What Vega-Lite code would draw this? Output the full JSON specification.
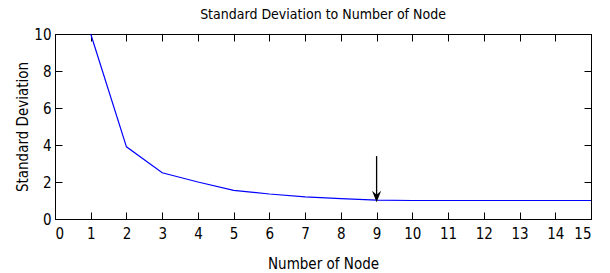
{
  "$schema": "https://vega.github.io/schema/vega-lite/v6.json",
  "width": 536,
  "height": 185,
  "autosize": "none",
  "padding": {"left": 55, "top": 34, "right": 19, "bottom": 54},
  "background": "white",
  "config": {
    "font": "DejaVu Sans Condensed, Liberation Sans, sans-serif",
    "view": {"stroke": "black", "strokeWidth": 1},
    "axis": {"grid": false, "domainColor": "black", "tickColor": "black", "labelColor": "black", "titleColor": "black", "labelFont": "DejaVu Sans Condensed, Liberation Sans, sans-serif", "titleFont": "DejaVu Sans Condensed, Liberation Sans, sans-serif", "labelFontSize": 15, "titleFontSize": 15, "titleFontWeight": "normal", "tickSize": -7}
  },
  "title": {"text": "Standard Deviation to Number of Node", "font": "DejaVu Sans Condensed, Liberation Sans, sans-serif", "fontSize": 14, "fontWeight": "normal", "color": "black", "offset": 5},
  "datasets": {
    "series": [
      {"node": 1, "sd": 10},
      {"node": 2, "sd": 3.9},
      {"node": 3, "sd": 2.5},
      {"node": 4, "sd": 2.0},
      {"node": 5, "sd": 1.55},
      {"node": 6, "sd": 1.35},
      {"node": 7, "sd": 1.2},
      {"node": 8, "sd": 1.1},
      {"node": 9, "sd": 1.02},
      {"node": 10, "sd": 1.0},
      {"node": 11, "sd": 1.0},
      {"node": 12, "sd": 1.0},
      {"node": 13, "sd": 1.0},
      {"node": 14, "sd": 1.0},
      {"node": 15, "sd": 1.0}
    ],
    "arrow": [{"node": 9, "top": 3.4, "bottom": 1.3, "tip": 1.22}]
  },
  "resolve": {"axis": {"x": "independent", "y": "independent"}},
  "layer": [
    {
      "data": {"name": "series"},
      "mark": {"type": "line", "color": "#0000ff", "strokeWidth": 1.2},
      "encoding": {
        "x": {"field": "node", "type": "quantitative", "scale": {"domain": [0, 15], "nice": false}, "axis": {"values": [0,1,2,3,4,5,6,7,8,9,10,11,12,13,14,15], "title": "Number of Node", "labelPadding": 14, "titlePadding": 15}},
        "y": {"field": "sd", "type": "quantitative", "scale": {"domain": [0, 10], "nice": false}, "axis": {"values": [0,2,4,6,8,10], "title": "Standard Deviation", "labelPadding": 11, "titlePadding": 3}}
      }
    },
    {
      "data": {"name": "arrow"},
      "mark": {"type": "rule", "color": "black", "strokeWidth": 1.3},
      "encoding": {
        "x": {"field": "node", "type": "quantitative", "axis": {"orient": "top", "values": [0,1,2,3,4,5,6,7,8,9,10,11,12,13,14,15], "labels": false, "title": null}},
        "y": {"field": "top", "type": "quantitative", "axis": {"orient": "right", "values": [0,2,4,6,8,10], "labels": false, "title": null}},
        "y2": {"field": "bottom"}
      }
    },
    {
      "data": {"name": "arrow"},
      "mark": {"type": "point", "shape": "M-0.8,-1L0,1L0.8,-1L0,-0.3Z", "filled": true, "color": "black", "size": 130, "opacity": 1},
      "encoding": {
        "x": {"field": "node", "type": "quantitative", "axis": null},
        "y": {"field": "tip", "type": "quantitative", "axis": null}
      }
    }
  ]
}
